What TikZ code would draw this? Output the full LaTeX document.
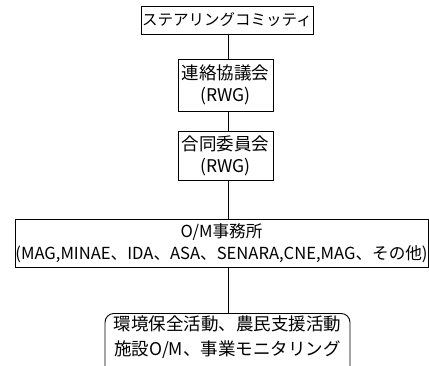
\documentclass[tikz,border=0pt]{standalone}
\usepackage{fontspec}
\setmainfont{Noto Sans CJK JP}
\usetikzlibrary{calc}
\tikzset{
  box/.style={draw, line width=0.9pt, rectangle, inner sep=0pt, align=center, font=\fontsize{17.5}{22}\selectfont},
  txt/.style={inner sep=0pt, align=center, font=\fontsize{17.5}{25}\selectfont},
  link/.style={line width=0.9pt}
}
\begin{document}
\begin{tikzpicture}[x=1pt,y=-1pt]
\useasboundingbox (0,0) rectangle (429,365);
\clip (0,0) rectangle (429,365);
\coordinate (lx) at (228.5,0);
\node[box, minimum width=172pt, minimum height=28pt, font=\fontsize{15.5}{20}\selectfont] (top) at (227,20) {ステアリングコミッティ};
\node[box, minimum width=95pt, minimum height=52pt] (b2) at (225.5,85) {連絡協議会\\(RWG)};
\node[box, minimum width=95pt, minimum height=49pt] (b3) at (225.5,155.5) {合同委員会\\(RWG)};
\node[box, minimum width=413pt, minimum height=48pt, font=\fontsize{16.6}{22}\selectfont] (om) at (221.5,243) {O/M事務所\\(MAG,MINAE、IDA、ASA、SENARA,CNE,MAG、その他)};
\node[draw, line width=0.9pt, rounded corners=9pt, minimum width=245pt, minimum height=70pt, anchor=north] (act) at (227.5,313) {};
\node[txt] (acttext) at (227.5,337.5) {環境保全活動、農民支援活動\\施設O/M、事業モニタリング};
\draw[link] (top.south -| lx) -- (b2.north -| lx);
\draw[link] (b2.south -| lx) -- (b3.north -| lx);
\draw[link] (b3.south -| lx) -- (om.north -| lx);
\draw[link] (om.south -| lx) -- (act.north -| lx);
\end{tikzpicture}
\end{document}
